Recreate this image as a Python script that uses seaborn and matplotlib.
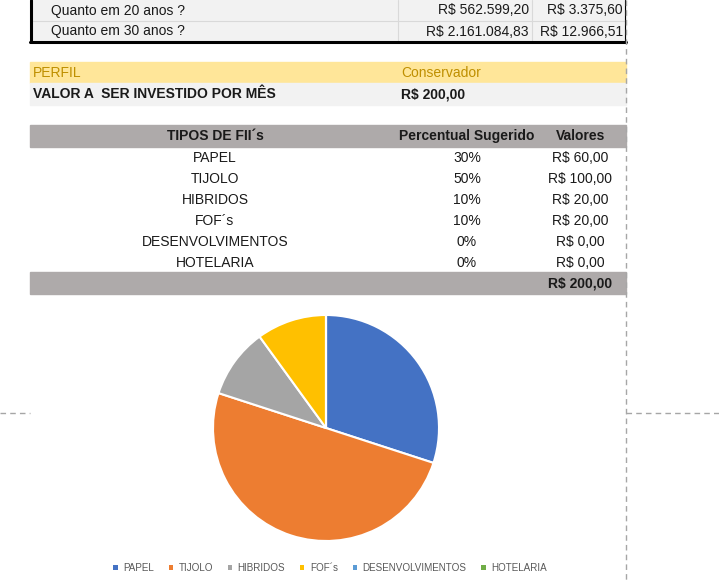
import matplotlib
matplotlib.use("Agg")
import matplotlib.pyplot as plt
from matplotlib import font_manager
from matplotlib.patches import Patch
import seaborn as sns

# data from the sheet
tipos = ["PAPEL", "TIJOLO", "HIBRIDOS", "FOF´s", "DESENVOLVIMENTOS", "HOTELARIA"]
percentual = [30, 50, 10, 10, 0, 0]
valores = ["R$ 60,00", "R$ 100,00", "R$ 20,00", "R$ 20,00", "R$ 0,00", "R$ 0,00"]
total = "R$ 200,00"

projecao_labels = ["Quanto em 20 anos ?", "Quanto em 30 anos ?"]
projecao_total = ["R$ 562.599,20", "R$ 2.161.084,83"]
projecao_renda = ["R$ 3.375,60", "R$ 12.966,51"]

perfil = "Conservador"
valor_mes = "R$ 200,00"

sns.set_theme(style="white")
palette = sns.color_palette(["#4472c4", "#ed7d31", "#a5a5a5", "#ffc000", "#5b9bd5", "#70ad47"])

# condensed font if we have one
narrow = "Liberation Sans"
for fam in ["Liberation Sans Narrow", "DejaVu Sans Condensed"]:
    try:
        font_manager.findfont(fam, fallback_to_default=False)
        narrow = fam
        break
    except Exception:
        pass
plt.rcParams["font.family"] = [narrow, "DejaVu Sans"]

fig = plt.figure(figsize=(7.19, 5.82), dpi=100)
bg = fig.add_axes([0, 0, 1, 1])
bg.set_xlim(0, 719)
bg.set_ylim(582, 0)
bg.axis("off")

fs = 10
txt = "#1a1a1a"

# top block (projection rows)
bg.add_patch(plt.Rectangle((31, 0), 595, 42, color="#f2f2f2", zorder=0))
bg.plot([31, 626], [21, 21], color="#d9d9d9", lw=0.8)
bg.plot([398, 398], [0, 42], color="#d9d9d9", lw=0.8)
bg.plot([532, 532], [0, 42], color="#d9d9d9", lw=0.8)
bg.plot([31, 31], [0, 42], color="black", lw=2.2)
bg.plot([30, 626], [42, 42], color="black", lw=2.2)
bg.plot([625, 625], [0, 42], color="black", lw=0.8)
for i, lab in enumerate(projecao_labels):
    y = 10.5 + 21 * i
    bg.text(51, y, lab, fontsize=fs, va="center", color=txt)
    bg.text(529, y, projecao_total[i], fontsize=fs, va="center", ha="right", color=txt)
    bg.text(623, y, projecao_renda[i], fontsize=fs, va="center", ha="right", color=txt)

# perfil rows
bg.add_patch(plt.Rectangle((30, 62), 596, 21, color="#ffe699", zorder=0))
bg.add_patch(plt.Rectangle((30, 83), 596, 22, color="#f2f2f2", zorder=0))
bg.text(33, 73, "PERFIL", fontsize=fs, va="center", color="#bf8f00")
bg.text(401, 73, perfil, fontsize=fs, va="center", color="#bf8f00")
bg.text(33, 94.5, "VALOR A  SER INVESTIDO POR MÊS", fontsize=fs, va="center",
        fontweight="bold", color=txt)
bg.text(401, 94.5, valor_mes, fontsize=fs, va="center", fontweight="bold", color=txt)

# FII table
bg.add_patch(plt.Rectangle((30, 125), 596, 22, color="#aeaaaa", zorder=0))
bg.add_patch(plt.Rectangle((30, 272), 596, 22, color="#aeaaaa", zorder=0))
bg.text(215, 136, "TIPOS DE FII´s", fontsize=fs, ha="center", va="center", fontweight="bold", color=txt)
bg.text(467, 136, "Percentual Sugerido", fontsize=fs, ha="center", va="center", fontweight="bold", color=txt)
bg.text(581, 136, "Valores", fontsize=fs, ha="center", va="center", fontweight="bold", color=txt)
for i, t in enumerate(tipos):
    y = 158 + 21 * i
    bg.text(215, y, t, fontsize=fs, ha="center", va="center", color=txt)
    bg.text(467, y, f"{percentual[i]}%", fontsize=fs, ha="center", va="center", color=txt)
    bg.text(580, y, valores[i], fontsize=fs, ha="center", va="center", color=txt)
bg.text(580, 283, total, fontsize=fs, ha="center", va="center", fontweight="bold", color=txt)

# page break lines
bg.plot([626, 626], [0, 582], color="#a6a6a6", lw=1, ls=(0, (4, 3)))
bg.plot([0, 30], [413, 413], color="#a6a6a6", lw=1, ls=(0, (4, 3)))
bg.plot([626, 719], [413, 413], color="#a6a6a6", lw=1, ls=(0, (4, 3)))

# pie
ax = fig.add_axes([213 / 719, 1 - 541 / 582, 226 / 719, 226 / 582])
ax.pie(percentual, colors=palette, startangle=90, counterclock=False,
       wedgeprops=dict(edgecolor="white", linewidth=1.5))
ax.set_xlim(-1.0, 1.0)
ax.set_ylim(-1.0, 1.0)
ax.set_aspect("equal")
ax.axis("off")

handles = [Patch(facecolor=c, edgecolor="none") for c in palette]
fig.legend(handles, tipos, ncol=6, loc="center", bbox_to_anchor=(330 / 719, 1 - 568 / 582),
           frameon=False, handlelength=0.45, handleheight=0.45,
           handletextpad=0.55, columnspacing=1.5, labelcolor="#595959",
           prop={"family": ["Liberation Sans", "DejaVu Sans"], "size": 7.1})

fig.savefig("out.png", dpi=100)
